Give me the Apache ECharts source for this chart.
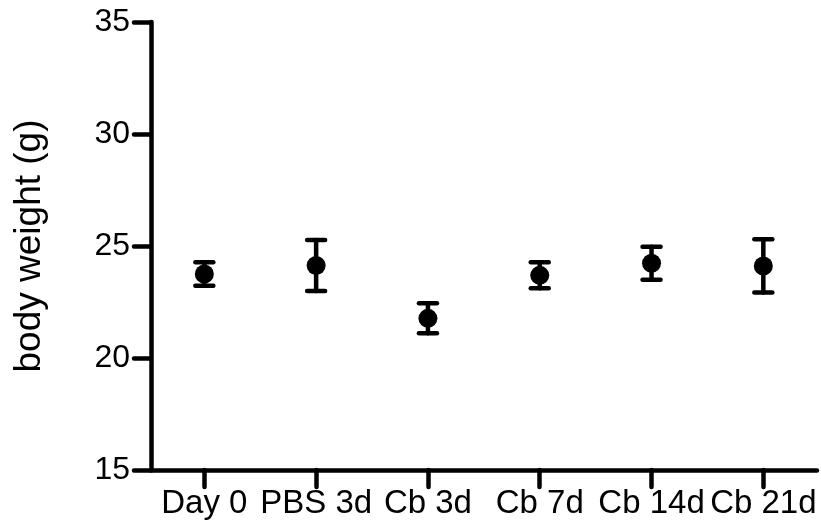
<!DOCTYPE html>
<html>
<head>
<meta charset="utf-8">
<script src="https://cdn.jsdelivr.net/npm/echarts@6/dist/echarts.min.js"></script>
<style>
html,body{margin:0;padding:0;background:#fff;}
#chart{width:821px;height:529px;}
</style>
</head>
<body>
<div id="chart"></div>
<script>
const categories = ['Day 0', 'PBS 3d', 'Cb 3d', 'Cb 7d', 'Cb 14d', 'Cb 21d'];
const means = [23.75, 24.13, 21.77, 23.69, 24.23, 24.11];
const errors = [0.52, 1.14, 0.67, 0.58, 0.74, 1.19];
const yTicks = [15, 20, 25, 30, 35];

const positions = categories.map((c, i) => i + 1);
const pointData = positions.map((x, i) => [x, means[i]]);
const errData = positions.map((x, i) => [x, means[i] - errors[i], means[i] + errors[i]]);

const font = 'Arial, "Liberation Sans", Helvetica, sans-serif';
const chart = echarts.init(document.getElementById('chart'), null, {renderer: 'canvas'});

chart.setOption({
  animation: false,
  backgroundColor: '#fff',
  grid: {left: 151, right: 4, top: 22, bottom: 59, containLabel: false},
  xAxis: {
    type: 'value',
    min: 0.523,
    max: 6.48,
    splitLine: {show: false},
    axisLine: {show: true, onZero: false, lineStyle: {color: '#000', width: 4.5}},
    axisTick: {show: true, inside: false, length: 17, customValues: positions,
      lineStyle: {color: '#000', width: 4.5, cap: 'round'}},
    axisLabel: {show: true, customValues: positions, margin: 17,
      color: '#000', fontSize: 33, fontFamily: font,
      formatter: v => categories[Math.round(v) - 1] || ''}
  },
  yAxis: {
    type: 'value',
    min: yTicks[0],
    max: yTicks[yTicks.length - 1],
    interval: 5,
    name: 'body weight (g)',
    nameLocation: 'middle',
    nameGap: 103,
    nameTextStyle: {color: '#000', fontSize: 37, fontFamily: font},
    splitLine: {show: false},
    axisLine: {show: true, lineStyle: {color: '#000', width: 4.5}},
    axisTick: {show: true, length: 17, lineStyle: {color: '#000', width: 4.5, cap: 'round'}},
    axisLabel: {color: '#000', fontSize: 32, fontFamily: font, margin: 21}
  },
  series: [
    {
      type: 'custom',
      data: errData,
      z: 2,
      renderItem: function (params, api) {
        const x = api.value(0);
        const pLo = api.coord([x, api.value(1)]);
        const pHi = api.coord([x, api.value(2)]);
        const hw = 9;
        const st = {stroke: '#000', lineWidth: 4.5, lineCap: 'round'};
        return {
          type: 'group',
          children: [
            {type: 'line', shape: {x1: pLo[0], y1: pLo[1], x2: pHi[0], y2: pHi[1]}, style: st},
            {type: 'line', shape: {x1: pHi[0] - hw, y1: pHi[1], x2: pHi[0] + hw, y2: pHi[1]}, style: st},
            {type: 'line', shape: {x1: pLo[0] - hw, y1: pLo[1], x2: pLo[0] + hw, y2: pLo[1]}, style: st}
          ]
        };
      }
    },
    {
      type: 'scatter',
      data: pointData,
      z: 3,
      symbol: 'circle',
      symbolSize: 19,
      itemStyle: {color: '#000', opacity: 1}
    }
  ]
});
</script>
</body>
</html>
